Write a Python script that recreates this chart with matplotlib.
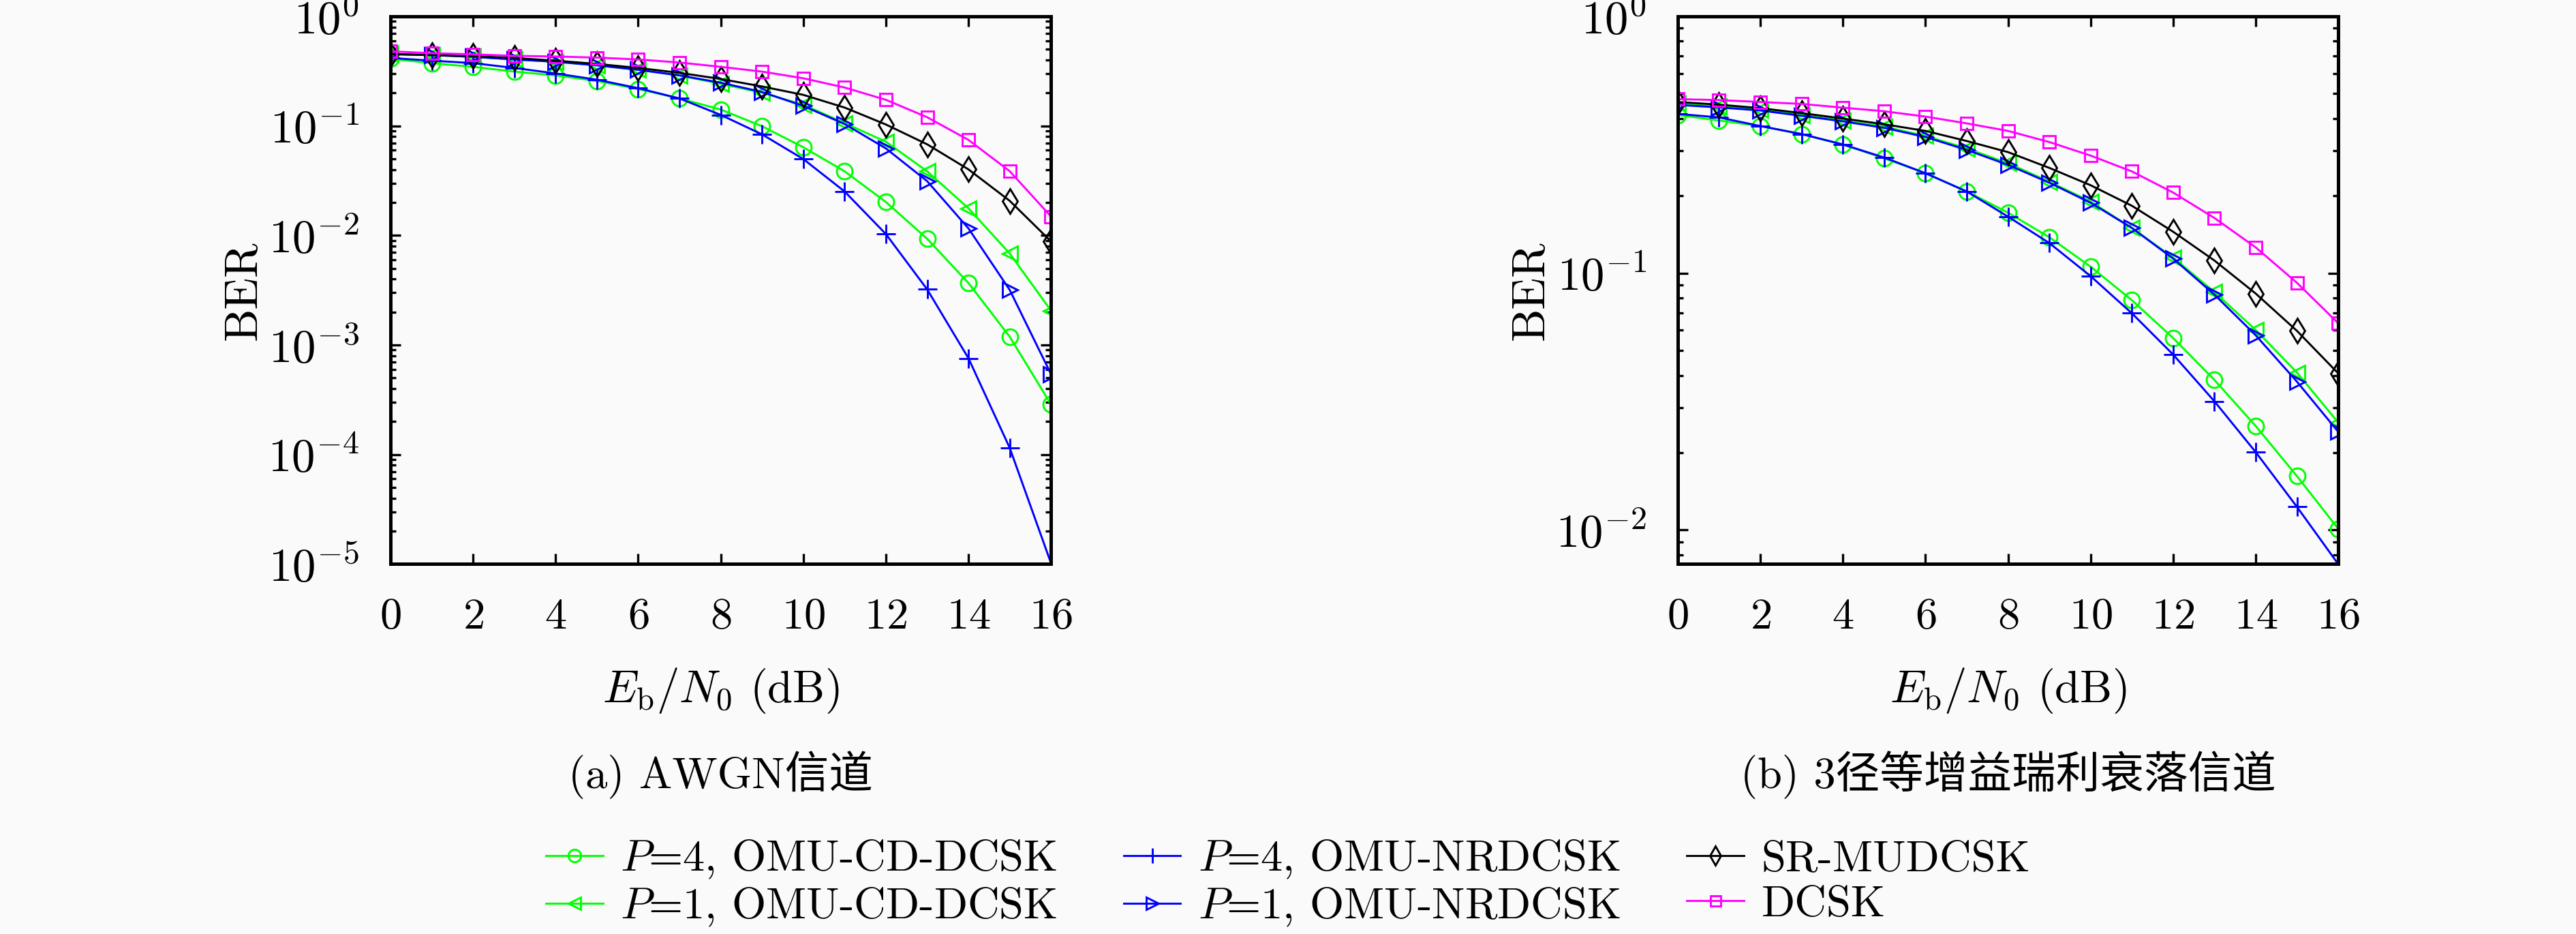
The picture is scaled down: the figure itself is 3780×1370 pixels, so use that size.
import math
import matplotlib
matplotlib.use("Agg")
import matplotlib.pyplot as plt
from matplotlib.ticker import FixedLocator, LogLocator, NullFormatter, FuncFormatter

plt.rcParams["font.family"] = ["cmr10", "Noto Sans CJK SC"]
plt.rcParams["mathtext.fontset"] = "cm"
plt.rcParams["axes.unicode_minus"] = False
plt.rcParams["axes.formatter.use_mathtext"] = True

snr = list(range(17))

# (a) AWGN channel
awgn_p4_cd = [0.410, 0.374, 0.346, 0.313, 0.289, 0.257, 0.217, 0.178, 0.141, 0.0993,
              0.0638, 0.0385, 0.0202, 0.00933, 0.00368, 0.00119, 0.000287]
awgn_p1_cd = [0.454, 0.443, 0.427, 0.404, 0.385, 0.357, 0.325, 0.289, 0.242, 0.201,
              0.156, 0.106, 0.0717, 0.0385, 0.0177, 0.00684, 0.00206]
awgn_p4_nr = [0.417, 0.394, 0.374, 0.338, 0.301, 0.264, 0.221, 0.178, 0.126, 0.0837,
              0.0498, 0.0252, 0.0103, 0.00322, 0.000757, 0.000115, 1.02e-5]
awgn_p1_nr = [0.454, 0.443, 0.427, 0.404, 0.385, 0.357, 0.325, 0.289, 0.248, 0.204,
              0.152, 0.104, 0.0623, 0.0313, 0.0116, 0.00318, 0.000542]
awgn_sr = [0.450, 0.443, 0.433, 0.417, 0.394, 0.368, 0.338, 0.305, 0.268, 0.229,
           0.192, 0.147, 0.103, 0.0679, 0.0401, 0.0207, 0.00883]
awgn_dcsk = [0.479, 0.461, 0.450, 0.436, 0.430, 0.420, 0.404, 0.379, 0.346, 0.313,
             0.272, 0.224, 0.173, 0.120, 0.0745, 0.0386, 0.0149]

# (b) 3-path equal-gain Rayleigh fading channel
ray_p4_cd = [0.413, 0.393, 0.374, 0.348, 0.317, 0.280, 0.245, 0.208, 0.172, 0.138,
             0.106, 0.0785, 0.0559, 0.0384, 0.0254, 0.0162, 0.0101]
ray_p1_cd = [0.456, 0.446, 0.434, 0.413, 0.393, 0.372, 0.342, 0.306, 0.268, 0.227,
             0.190, 0.150, 0.115, 0.0844, 0.0601, 0.0410, 0.0262]
ray_p4_nr = [0.417, 0.404, 0.374, 0.348, 0.317, 0.282, 0.245, 0.208, 0.166, 0.131,
             0.0974, 0.0698, 0.0482, 0.0317, 0.0201, 0.0123, 0.00736]
ray_p1_nr = [0.452, 0.442, 0.430, 0.410, 0.390, 0.368, 0.339, 0.302, 0.264, 0.225,
             0.188, 0.150, 0.114, 0.0825, 0.0573, 0.0378, 0.0241]
ray_sr = [0.464, 0.453, 0.439, 0.420, 0.400, 0.380, 0.358, 0.327, 0.296, 0.257,
          0.220, 0.183, 0.145, 0.112, 0.0833, 0.0596, 0.0407]
ray_dcsk = [0.476, 0.472, 0.464, 0.456, 0.441, 0.427, 0.407, 0.383, 0.358, 0.324,
            0.287, 0.249, 0.206, 0.164, 0.126, 0.0917, 0.0638]

labels = [r"$P$=4, OMU-CD-DCSK", r"$P$=1, OMU-CD-DCSK",
          r"$P$=4, OMU-NRDCSK", r"$P$=1, OMU-NRDCSK",
          "SR-MUDCSK", "DCSK"]
colors = ["#00ff00", "#00ff00", "#0000ff", "#0000ff", "black", "#ff00ff"]
markers = ["o", "<", "+", ">", "d", "s"]
msizes = [5.5, 5.5, 6.5, 5.5, 6, 4.5]

captions = ["(a) AWGN信道", "(b) 3径等增益瑞利衰落信道"]
ylims = [(1e-5, 1.0), (7.36e-3, 1.0)]
yticks = [[1e0, 1e-1, 1e-2, 1e-3, 1e-4, 1e-5], [1e0, 1e-1, 1e-2]]

panels = [
    [awgn_p4_cd, awgn_p1_cd, awgn_p4_nr, awgn_p1_nr, awgn_sr, awgn_dcsk],
    [ray_p4_cd, ray_p1_cd, ray_p4_nr, ray_p1_nr, ray_sr, ray_dcsk],
]

bg = "#fafafa"
fig = plt.figure(figsize=(12.6, 4.5667), dpi=300, facecolor=bg)
lefts = [0.1516, 0.6513]


def fmt_pow(v, pos):
    e = int(round(math.log10(v)))
    return r"$10^{%d}$" % e


handles = []
for k, series in enumerate(panels):
    ax = fig.add_axes([lefts[k], 0.396, 0.2564, 0.5865], facecolor=bg)
    for i, ys in enumerate(series):
        (ln,) = ax.semilogy(snr, ys, color=colors[i], marker=markers[i],
                            markersize=msizes[i], markerfacecolor="none",
                            markeredgewidth=0.7, linewidth=0.7, label=labels[i])
        if k == 0:
            handles.append(ln)
    ax.set_xlim(0, 16)
    ax.set_ylim(*ylims[k])
    ax.xaxis.set_major_locator(FixedLocator(list(range(0, 17, 2))))
    ax.yaxis.set_major_locator(FixedLocator(yticks[k]))
    ax.yaxis.set_major_formatter(FuncFormatter(fmt_pow))
    ax.yaxis.set_minor_locator(LogLocator(base=10, subs=range(2, 10), numticks=20))
    ax.yaxis.set_minor_formatter(NullFormatter())
    ax.tick_params(which="both", direction="in", top=True, right=True, width=0.8)
    ax.tick_params(which="major", length=3.5)
    ax.tick_params(which="minor", length=2)
    ax.tick_params(axis="x", pad=12, labelsize=15.5)
    ax.tick_params(axis="y", pad=11, labelsize=16.5)
    for sp in ax.spines.values():
        sp.set_linewidth(1.2)
    ax.set_xlabel(r"$E_{\mathrm{b}}/N_0$ (dB)", fontsize=16, labelpad=10)
    ax.set_ylabel("BER", fontsize=16.5)
    ax.yaxis.set_label_coords(-0.19, 0.5)
    cx = lefts[k] + 0.2564 / 2
    fig.text(cx, 0.170, captions[k], ha="center", va="center", fontsize=15.5)

fig.legend(handles, labels, loc="center", bbox_to_anchor=(0.5, 0.054), ncol=3,
           frameon=False, fontsize=15.5, handlelength=1.3, handletextpad=0.4,
           columnspacing=1.5, labelspacing=0.12, numpoints=1, markerscale=0.8)

fig.savefig("out.png", dpi=300, facecolor=bg)
